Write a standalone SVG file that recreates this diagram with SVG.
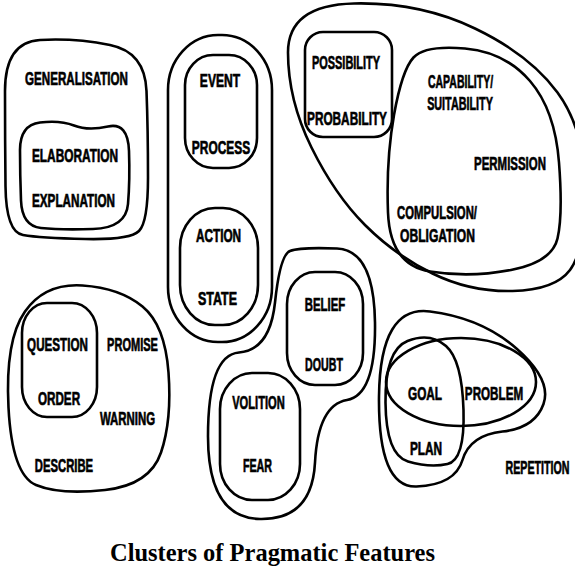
<svg xmlns="http://www.w3.org/2000/svg" width="575" height="582" viewBox="0 0 575 582">
<style>
.c{fill:none;stroke:#000;stroke-width:2.6;stroke-linejoin:round}
.t{font-family:"Liberation Sans",Arial,sans-serif;font-weight:bold;font-size:19px;fill:#000;stroke:#000;stroke-width:0.7;text-anchor:middle}
.h{font-family:"Liberation Serif","Times New Roman",serif;font-weight:bold;font-size:25px;fill:#000}
</style>
<rect width="575" height="582" fill="#fff"/>
<g id="generalisation-cluster">
<path class="c" d="M 40,40 Q 75,38 110,45 Q 145,52 146.5,91 Q 148,130 148,177.5 Q 148,222 139,231 Q 130,240 85,239 Q 40,238 23,235 Q 6,232 5.5,186 Q 5,140 5,91 Q 5,42 40,40 Z"/>
<text class="t" transform="matrix(0.62,0,0,1,76.5,85)" textLength="166" lengthAdjust="spacingAndGlyphs">GENERALISATION</text>
<g id="elaboration-explanation">
<path class="c" d="M 40,122.5 Q 60,120 74,125.5 Q 88,131 108,126.5 Q 128,122 129,151 Q 130,180 128,204 Q 126,228 93,229 Q 60,230 41,228 Q 22,226 21,200.5 Q 20,175 20,150 Q 20,125 40,122.5 Z"/>
<text class="t" transform="matrix(0.62,0,0,1,75,162)" textLength="139" lengthAdjust="spacingAndGlyphs">ELABORATION</text>
<text class="t" transform="matrix(0.62,0,0,1,73.5,207)" textLength="134" lengthAdjust="spacingAndGlyphs">EXPLANATION</text>
</g>
</g>
<g id="event-cluster">
<rect class="c" x="168" y="35" width="104" height="307" rx="50" ry="55"/>
<g id="event-process">
<rect class="c" x="185" y="55" width="72" height="113" rx="28" ry="30"/>
<text class="t" transform="matrix(0.62,0,0,1,220,87)" textLength="65" lengthAdjust="spacingAndGlyphs">EVENT</text>
<text class="t" transform="matrix(0.62,0,0,1,221,154)" textLength="94" lengthAdjust="spacingAndGlyphs">PROCESS</text>
</g>
<g id="action-state">
<rect class="c" x="180" y="208" width="78" height="117" rx="35" ry="40"/>
<text class="t" transform="matrix(0.62,0,0,1,218.5,242)" textLength="73" lengthAdjust="spacingAndGlyphs">ACTION</text>
<text class="t" transform="matrix(0.62,0,0,1,217.5,305)" textLength="63" lengthAdjust="spacingAndGlyphs">STATE</text>
</g>
</g>
<g id="modality-cluster">
<path class="c" d="M 354,3.5 Q 420,2 475,28.5 Q 530,55 557.5,92.5 Q 585,130 585,190 Q 585,250 570,270 Q 555,290 512.5,291 Q 470,292 432.5,273.5 Q 395,255 365,225 Q 335,195 311.5,147.5 Q 288,100 288,52.5 Q 288,5 354,3.5 Z"/>
<g id="possibility-probability">
<rect class="c" x="305" y="32" width="87" height="105" rx="18"/>
<text class="t" transform="matrix(0.62,0,0,1,346,69)" textLength="110" lengthAdjust="spacingAndGlyphs">POSSIBILITY</text>
<text class="t" transform="matrix(0.62,0,0,1,347,125)" textLength="129" lengthAdjust="spacingAndGlyphs">PROBABILITY</text>
</g>
<g id="capability-obligation">
<path class="c" d="M 465,48.5 Q 505,52 530,81 Q 555,110 559,162.5 Q 563,215 557.5,238.5 Q 552,262 511,270 Q 470,278 430,271.5 Q 390,265 388,212.5 Q 386,160 394,115 Q 402,70 413.5,57.5 Q 425,45 465,48.5 Z"/>
<text class="t" transform="matrix(0.62,0,0,1,460.5,88)" textLength="105" lengthAdjust="spacingAndGlyphs">CAPABILITY/</text>
<text class="t" transform="matrix(0.62,0,0,1,460,110)" textLength="106" lengthAdjust="spacingAndGlyphs">SUITABILITY</text>
<text class="t" transform="matrix(0.62,0,0,1,510,170)" textLength="116" lengthAdjust="spacingAndGlyphs">PERMISSION</text>
<text class="t" transform="matrix(0.62,0,0,1,437,219)" textLength="129" lengthAdjust="spacingAndGlyphs">COMPULSION/</text>
<text class="t" transform="matrix(0.62,0,0,1,437.5,242)" textLength="121" lengthAdjust="spacingAndGlyphs">OBLIGATION</text>
</g>
</g>
<g id="speech-act-cluster">
<path class="c" d="M 82.5,285.5 Q 120,288 142.5,306.5 Q 165,325 168.5,372.5 Q 172,420 161,452.5 Q 150,485 105,490 Q 60,495 36,485 Q 12,475 8.5,407.5 Q 5,340 25,311.5 Q 45,283 82.5,285.5 Z"/>
<g id="question-order">
<rect class="c" x="22" y="303" width="75" height="114" rx="25" ry="30"/>
<text class="t" transform="matrix(0.62,0,0,1,57.5,351)" textLength="98" lengthAdjust="spacingAndGlyphs">QUESTION</text>
<text class="t" transform="matrix(0.62,0,0,1,59,405)" textLength="68" lengthAdjust="spacingAndGlyphs">ORDER</text>
</g>
<text class="t" transform="matrix(0.62,0,0,1,132.5,351)" textLength="82" lengthAdjust="spacingAndGlyphs">PROMISE</text>
<text class="t" transform="matrix(0.62,0,0,1,127.5,425)" textLength="89" lengthAdjust="spacingAndGlyphs">WARNING</text>
<text class="t" transform="matrix(0.62,0,0,1,64,472)" textLength="94" lengthAdjust="spacingAndGlyphs">DESCRIBE</text>
</g>
<g id="attitude-cluster">
<path class="c" d="M 337,248.5 Q 374,250 375,322.5 Q 376,395 347,400 Q 318,405 315,462.5 Q 312,520 260,519 Q 208,518 208,436.5 Q 208,355 239,352.5 Q 270,350 275,302.5 Q 280,255 290,251 Q 300,247 337,248.5 Z"/>
<g id="belief-doubt">
<rect class="c" x="287" y="272" width="76" height="113" rx="28" ry="32"/>
<text class="t" transform="matrix(0.62,0,0,1,325,311)" textLength="65" lengthAdjust="spacingAndGlyphs">BELIEF</text>
<text class="t" transform="matrix(0.62,0,0,1,324,371)" textLength="61" lengthAdjust="spacingAndGlyphs">DOUBT</text>
</g>
<g id="volition-fear">
<rect class="c" x="220" y="373" width="80" height="127" rx="32" ry="36"/>
<text class="t" transform="matrix(0.62,0,0,1,258.5,409)" textLength="85" lengthAdjust="spacingAndGlyphs">VOLITION</text>
<text class="t" transform="matrix(0.62,0,0,1,257.5,472)" textLength="47" lengthAdjust="spacingAndGlyphs">FEAR</text>
</g>
</g>
<g id="goal-cluster">
<path class="c" d="M 430,311.5 Q 482,318 517,349 Q 552,380 543.5,404 Q 535,428 502.5,431.5 Q 470,435 462.5,460 Q 455,485 416.5,486.5 Q 378,488 379,396.5 Q 380,305 430,311.5 Z"/>
<g id="goal-problem">
<ellipse class="c" cx="461" cy="382" rx="75" ry="44"/>
</g>
<g id="goal-plan">
<path class="c" d="M 446,346 Q 462,360 463.5,410 Q 465,460 447.5,464 Q 430,468 408,461.5 Q 386,455 385.5,402.5 Q 385,350 407.5,341 Q 430,332 446,346 Z"/>
</g>
<text class="t" transform="matrix(0.62,0,0,1,425,400)" textLength="55" lengthAdjust="spacingAndGlyphs">GOAL</text>
<text class="t" transform="matrix(0.62,0,0,1,494,400)" textLength="94" lengthAdjust="spacingAndGlyphs">PROBLEM</text>
<text class="t" transform="matrix(0.62,0,0,1,426,455)" textLength="52" lengthAdjust="spacingAndGlyphs">PLAN</text>
</g>
<g id="repetition">
<text class="t" transform="matrix(0.62,0,0,1,537.5,474)" textLength="103" lengthAdjust="spacingAndGlyphs">REPETITION</text>
</g>
<text id="title" class="h" x="110" y="561" textLength="325" lengthAdjust="spacingAndGlyphs">Clusters of Pragmatic Features</text>
</svg>
